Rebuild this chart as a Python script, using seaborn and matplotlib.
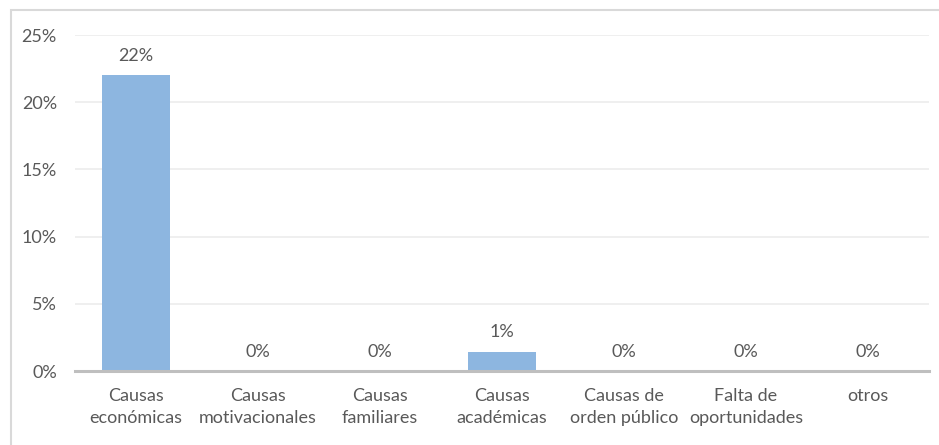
import matplotlib
matplotlib.use("Agg")
import matplotlib.pyplot as plt
import seaborn as sns
import pandas as pd
from matplotlib.patches import Rectangle
from matplotlib.ticker import FuncFormatter

categories = ["Causas\neconómicas", "Causas\nmotivacionales", "Causas\nfamiliares",
              "Causas\nacadémicas", "Causas de\norden público", "Falta de\noportunidades", "otros"]
values = [22, 0, 0, 1.45, 0, 0, 0]
value_labels = ["22%", "0%", "0%", "1%", "0%", "0%", "0%"]
yticks = [0, 5, 10, 15, 20, 25]

sns.set_theme(style="white")
plt.rcParams['font.family'] = ['Lato', 'DejaVu Sans']

df = pd.DataFrame({"cat": categories, "val": values})

W, H = 939, 445
fig = plt.figure(figsize=(W / 100, H / 100), dpi=100)
ax = fig.add_axes([75 / W, 1 - 371 / H, (929 - 75) / W, (371 - 35) / H])

sns.barplot(data=df, x="cat", y="val", color="#8DB6E0", saturation=1, width=0.56,
            linewidth=0, ax=ax)

txt = "#595959"
fs = 13
ax.set_ylim(0, 25)
ax.set_yticks(yticks)
ax.yaxis.set_major_formatter(FuncFormatter(lambda v, p: f"{int(v)}%"))
ax.grid(axis="y", color="#EEEEEE", linewidth=1.3)
ax.set_axisbelow(True)
for s in ["top", "right", "left"]:
    ax.spines[s].set_visible(False)
ax.spines["bottom"].set_color("#BFBFBF")
ax.spines["bottom"].set_linewidth(2.2)
ax.tick_params(axis="both", length=0, labelsize=fs, colors=txt)
ax.tick_params(axis="y", pad=13)
ax.tick_params(axis="x", pad=12)
for lbl in ax.get_xticklabels():
    lbl.set_linespacing(1.5)
ax.set_xlabel("")
ax.set_ylabel("")

ax.bar_label(ax.containers[0], labels=value_labels, padding=8, fontsize=fs, color=txt)

fig.patches.append(Rectangle((11 / W, -0.1), 1.2, 1 - 10 / H + 0.1, transform=fig.transFigure,
                             fill=False, edgecolor="#D9D9D9", linewidth=1.5))

fig.savefig("out.png", dpi=100)
